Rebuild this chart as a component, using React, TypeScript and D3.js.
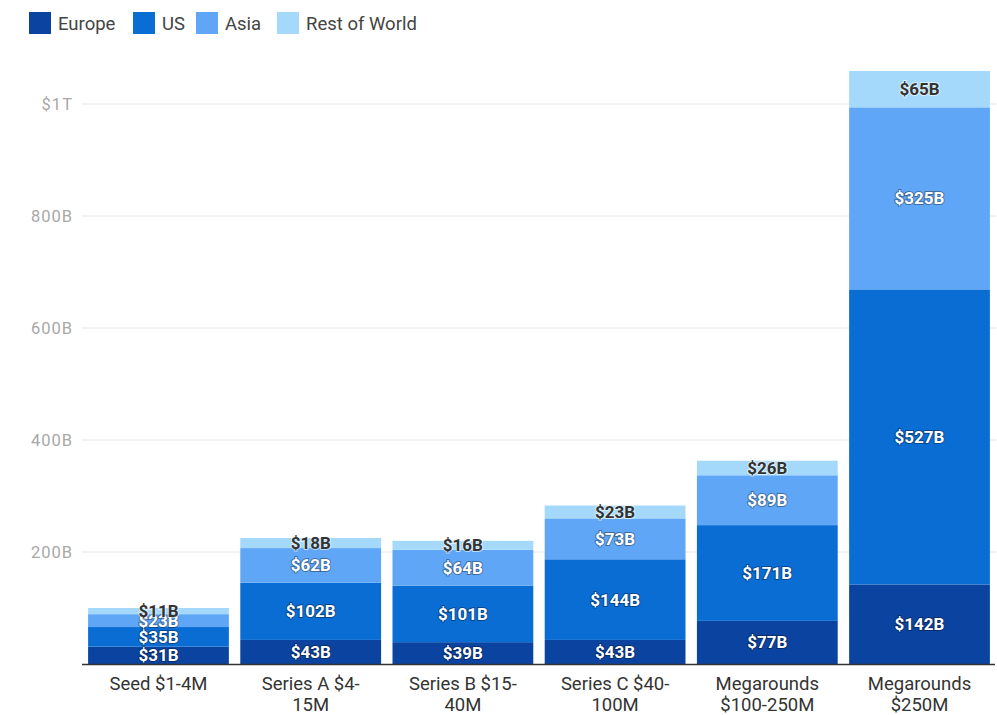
import React from "react";
import * as d3 from "d3";

const categories = [
  ["Seed $1-4M"],
  ["Series A $4-", "15M"],
  ["Series B $15-", "40M"],
  ["Series C $40-", "100M"],
  ["Megarounds", "$100-250M"],
  ["Megarounds", "$250M"],
];
const seriesNames = ["Europe", "US", "Asia", "Rest of World"];
const europe = [31, 43, 39, 43, 77, 142];
const us = [35, 102, 101, 144, 171, 527];
const asia = [23, 62, 64, 73, 89, 325];
const restOfWorld = [11, 18, 16, 23, 26, 65];
const yTicks = [200, 400, 600, 800, 1000];
const yTickLabels = ["200B", "400B", "600B", "800B", "$1T"];

const colors = ["#0b44a0", "#0a6dd4", "#5fa6f6", "#a5d9fc"];
const labelFill = ["#ffffff", "#ffffff", "#ffffff", "#333333"];
const labelStroke = ["rgba(0,0,0,0.35)", "rgba(0,0,0,0.35)", "rgba(0,0,0,0.35)", "rgba(255,255,255,0.6)"];

const W = 997;
const H = 715;
const FONT = "Roboto, 'Noto Sans', sans-serif";

export default function App() {
  const left = 82;
  const right = 996;
  const baseY = 664;
  const y = d3.scaleLinear().domain([0, 1000]).range([baseY, 104]);
  const x = d3
    .scaleBand<number>()
    .domain(categories.map((_, i) => i))
    .range([left, right])
    .paddingInner(0.075)
    .paddingOuter(0.04);

  const rows = categories.map((_, i) => ({
    i,
    Europe: europe[i],
    US: us[i],
    Asia: asia[i],
    "Rest of World": restOfWorld[i],
  }));
  const stacked = d3.stack<any>().keys(seriesNames)(rows);

  const legendX = [29, 133, 196, 277];

  return (
    <div style={{ position: "fixed", left: 0, top: 0, width: W, height: H, overflow: "hidden" }}>
      <svg width={W} height={H} style={{ display: "block", fontFamily: FONT }}>
        <rect width={W} height={H} fill="#fff" />
        {/* legend */}
        {seriesNames.map((s, k) => (
          <g key={s}>
            <rect x={legendX[k]} y={12} width={22} height={22} fill={colors[k]} />
            <text x={legendX[k] + 29} y={30} fontSize={18.5} fill="#444">
              {s}
            </text>
          </g>
        ))}
        {/* gridlines */}
        {yTicks.map((t, k) => (
          <g key={t}>
            <line x1={left} x2={right} y1={y(t)} y2={y(t)} stroke="#e6e6e6" strokeWidth={1} />
            <text x={73} y={y(t) + 6} fontSize={16.5} letterSpacing={1} fill="#a8a8a8" textAnchor="end">
              {yTickLabels[k]}
            </text>
          </g>
        ))}
        {/* bars */}
        {stacked.map((layer, k) => (
          <g key={layer.key}>
            {layer.map((d, i) => (
              <rect
                key={i}
                x={x(i)}
                y={y(d[1])}
                width={x.bandwidth()}
                height={y(d[0]) - y(d[1])}
                fill={colors[k]}
              />
            ))}
          </g>
        ))}
        {/* labels */}
        {stacked.map((layer, k) => (
          <g key={layer.key + "l"}>
            {layer.map((d, i) => (
              <text
                key={i}
                x={(x(i) as number) + x.bandwidth() / 2}
                y={(y(d[0]) + y(d[1])) / 2 + 6}
                textAnchor="middle"
                fontSize={17}
                fontWeight="bold"
                fill={labelFill[k]}
                stroke={labelStroke[k]}
                strokeWidth={2}
                paintOrder="stroke"
              >
                {"$" + (d[1] - d[0]) + "B"}
              </text>
            ))}
          </g>
        ))}
        {/* baseline */}
        <line x1={left} x2={right - 1} y1={baseY + 0.5} y2={baseY + 0.5} stroke="#333" strokeWidth={1.5} />
        {/* x labels */}
        {categories.map((lines, i) => (
          <text
            key={i}
            x={(x(i) as number) + x.bandwidth() / 2}
            textAnchor="middle"
            fontSize={18.5}
            fill="#333"
          >
            {lines.map((l, j) => (
              <tspan key={j} x={(x(i) as number) + x.bandwidth() / 2} y={690 + j * 21}>
                {l}
              </tspan>
            ))}
          </text>
        ))}
      </svg>
    </div>
  );
}
